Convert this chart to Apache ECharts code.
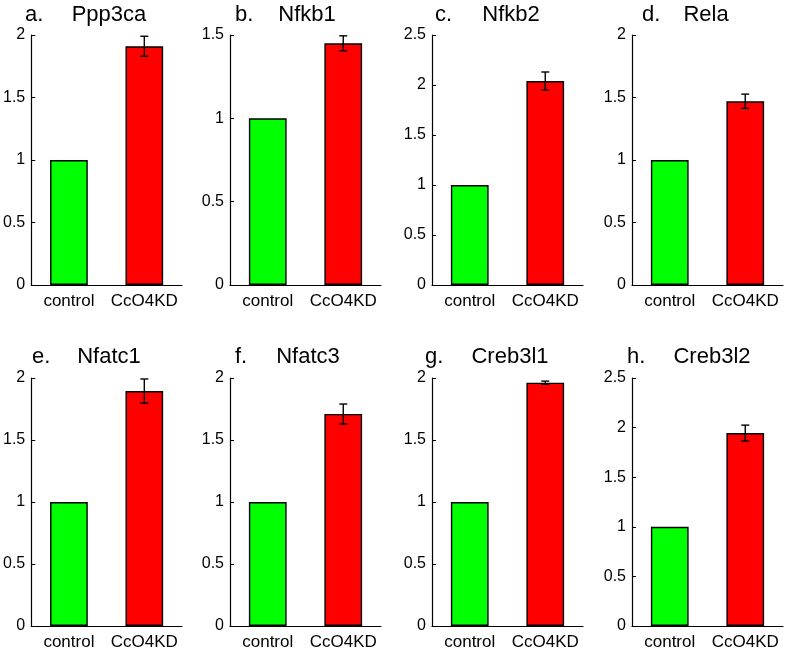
<!DOCTYPE html>
<html>
<head>
<meta charset="utf-8">
<script src="https://cdn.jsdelivr.net/npm/echarts@6/dist/echarts.min.js"></script>
<style>
html,body{margin:0;padding:0;background:#fff;}
#c{width:787px;height:651px;}
</style>
</head>
<body>
<div id="c"></div>
<script>
// ---- data ----
const categories = ['control', 'CcO4KD'];
const panelLetters = ['a.', 'b.', 'c.', 'd.', 'e.', 'f.', 'g.', 'h.'];
const genes = ['Ppp3ca', 'Nfkb1', 'Nfkb2', 'Rela', 'Nfatc1', 'Nfatc3', 'Creb3l1', 'Creb3l2'];
const controlValues = [1, 1, 1, 1, 1, 1, 1, 1];
const kdValues = [1.91, 1.45, 2.04, 1.47, 1.895, 1.71, 1.962, 1.945];
const kdErrors = [0.08, 0.045, 0.09, 0.057, 0.097, 0.08, 0.013, 0.08];
const yMaxes = [2, 1.5, 2.5, 2, 2, 2, 2, 2.5];

// ---- layout ----
const colLeft = [31, 230, 432, 632];
const rowTop = [35, 378];
const rowHeight = [250, 249];
const plotWidth = 151;
const letterX = [25, 235, 435, 642, 32, 235, 425, 627];
const geneX = [109, 307, 511, 706, 109, 308, 510, 712];
const titleY = [15, 357];
const FONT = 'Liberation Sans, Arial, sans-serif';

const grids = [], xAxes = [], yAxes = [], series = [], graphics = [];
for (let i = 0; i < 8; i++) {
  const r = Math.floor(i / 4), c = i % 4;
  grids.push({ left: colLeft[c], top: rowTop[r], width: plotWidth, height: rowHeight[r], containLabel: false });
  xAxes.push({
    type: 'category', gridIndex: i, data: categories,
    axisLine: { show: true, lineStyle: { color: '#000', width: 1.2 } },
    axisTick: { show: false },
    axisLabel: { color: '#000', fontSize: 17, fontFamily: FONT, margin: 8, interval: 0 },
    splitLine: { show: false }
  });
  yAxes.push({
    type: 'value', gridIndex: i, min: 0, max: yMaxes[i], interval: 0.5,
    axisLine: { show: true, lineStyle: { color: '#000', width: 1.2 } },
    axisTick: { show: true, inside: true, length: 4, lineStyle: { color: '#000' } },
    axisLabel: { color: '#000', fontSize: 16, fontFamily: FONT, margin: 6 },
    splitLine: { show: false }
  });
  series.push({
    type: 'bar', xAxisIndex: i, yAxisIndex: i, barWidth: '50%',
    data: [
      { value: controlValues[i], itemStyle: { color: '#00ff00' } },
      { value: kdValues[i], itemStyle: { color: '#ff0000' } }
    ],
    itemStyle: { borderColor: '#000', borderWidth: 1.4 },
    silent: true, animation: false
  });
  series.push({
    type: 'custom', xAxisIndex: i, yAxisIndex: i,
    data: [[1, kdValues[i], kdErrors[i]]],
    renderItem: function (params, api) {
      const x = api.value(0), v = api.value(1), e = api.value(2);
      const top = api.coord([x, v + e]);
      const bot = api.coord([x, v - e]);
      const hw = 4;
      const st = { stroke: '#000', lineWidth: 1.4 };
      return {
        type: 'group',
        children: [
          { type: 'line', shape: { x1: top[0], y1: top[1], x2: bot[0], y2: bot[1] }, style: st },
          { type: 'line', shape: { x1: top[0] - hw, y1: top[1], x2: top[0] + hw, y2: top[1] }, style: st },
          { type: 'line', shape: { x1: bot[0] - hw, y1: bot[1], x2: bot[0] + hw, y2: bot[1] }, style: st }
        ]
      };
    },
    z: 5, silent: true, animation: false
  });
  graphics.push({
    type: 'text', x: letterX[i], y: titleY[r],
    style: { text: panelLetters[i], font: '22px ' + FONT, fill: '#000', textAlign: 'left', textVerticalAlign: 'middle' }
  });
  graphics.push({
    type: 'text', x: geneX[i], y: titleY[r],
    style: { text: genes[i], font: '22px ' + FONT, fill: '#000', textAlign: 'center', textVerticalAlign: 'middle' }
  });
}

const chart = echarts.init(document.getElementById('c'), null, { renderer: 'canvas' });
chart.setOption({
  backgroundColor: '#fff',
  animation: false,
  grid: grids, xAxis: xAxes, yAxis: yAxes, series: series,
  graphic: graphics
});
</script>
</body>
</html>
